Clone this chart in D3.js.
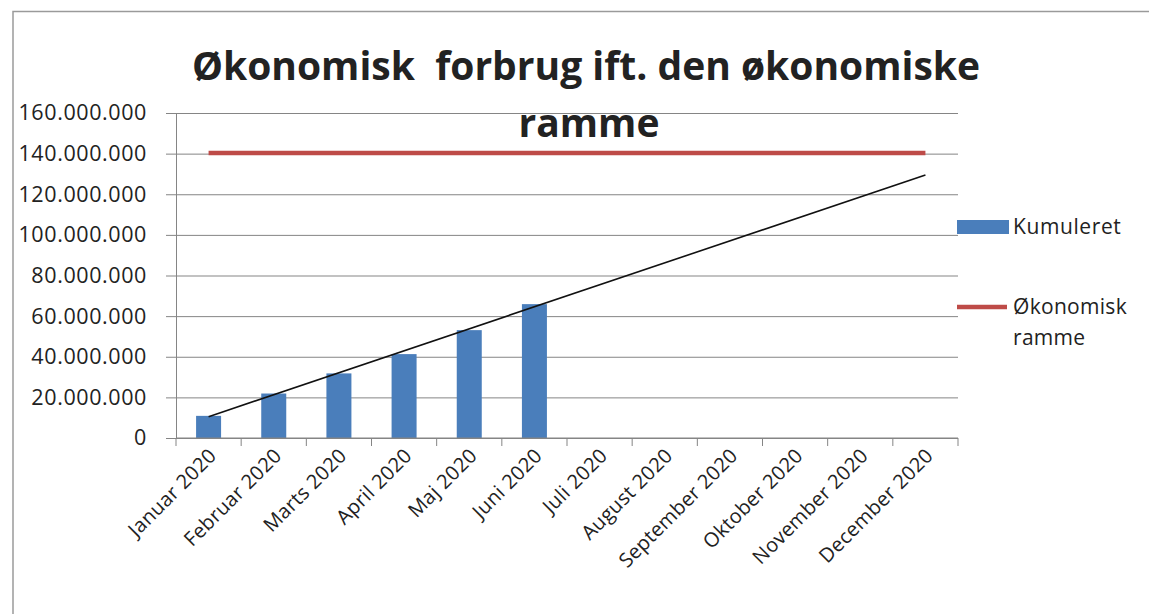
<!DOCTYPE html>
<html>
<head>
<meta charset="utf-8">
<script src="https://cdn.jsdelivr.net/npm/d3@7"></script>
<style>
  body { margin: 0; background: #fff; }
  text { font-family: "Open Sans", sans-serif; fill: #222; }
</style>
</head>
<body>
<div id="chart"></div>
<script>
// Data (values in kroner)
const months = ["Januar 2020", "Februar 2020", "Marts 2020", "April 2020", "Maj 2020", "Juni 2020",
  "Juli 2020", "August 2020", "September 2020", "Oktober 2020", "November 2020", "December 2020"];
const kumuleret = [10900000, 21900000, 31800000, 41300000, 53100000, 65900000];
const ramme = [140300000, 140300000, 140300000, 140300000, 140300000, 140300000,
  140300000, 140300000, 140300000, 140300000, 140300000, 140300000];
// trendline endpoints (Januar, December)
const trendMonths = ["Januar 2020", "December 2020"];
const trendValues = [10500000, 129500000];
const yTicks = [0, 20000000, 40000000, 60000000, 80000000, 100000000, 120000000, 140000000, 160000000];

const width = 1149, height = 614;
const margin = { top: 113, right: 191, bottom: 176, left: 176 };
const w = width - margin.left - margin.right;
const h = height - margin.top - margin.bottom;

const svg = d3.select("#chart").append("svg")
    .attr("width", width)
    .attr("height", height);

// outer frame (top + left edge)
svg.append("path")
    .attr("d", "M13,614 V11.5 H1149")
    .attr("fill", "none")
    .attr("stroke", "#9a9a9a")
    .attr("stroke-width", 1.5);

const g = svg.append("g")
    .attr("transform", "translate(" + margin.left + "," + margin.top + ")");

const x = d3.scaleBand().domain(months).range([0, w]);
const y = d3.scaleLinear().domain([0, 160000000]).range([h, 0]);

const fmt = v => d3.format(",")(v).replace(/,/g, ".");

// Y grid
g.append("g")
    .call(d3.axisLeft(y).tickValues(yTicks).tickSize(-w).tickFormat(""))
    .call(s => s.select(".domain").remove())
    .call(s => s.selectAll("line").attr("stroke", "#858585"));

// Y axis
g.append("g")
    .call(d3.axisLeft(y).tickValues(yTicks).tickSize(10).tickPadding(19).tickFormat(fmt))
    .call(s => s.select(".domain").attr("stroke", "#858585"))
    .call(s => s.selectAll("line").attr("stroke", "#858585"))
    .call(s => s.selectAll("text").attr("font-size", 21.5).attr("letter-spacing", 0.6).attr("fill", "#222"));

// bars
g.selectAll(".bar")
    .data(kumuleret)
    .join("rect")
    .attr("class", "bar")
    .attr("x", (d, i) => x(months[i]) + x.bandwidth() / 2 - 12.5)
    .attr("width", 25)
    .attr("y", d => y(d))
    .attr("height", d => h - y(d))
    .attr("fill", "#4a7ebb");

// X axis with boundary ticks
const xAxis = g.append("g").attr("transform", "translate(0," + h + ")");
xAxis.append("line").attr("x1", 0).attr("x2", w).attr("stroke", "#858585");
xAxis.selectAll(".tk")
    .data(months.concat(["end"]))
    .join("line")
    .attr("x1", (d, i) => i * x.step())
    .attr("x2", (d, i) => i * x.step())
    .attr("y2", 8)
    .attr("stroke", "#858585");
xAxis.selectAll(".lbl")
    .data(months)
    .join("text")
    .attr("class", "lbl")
    .attr("text-anchor", "end")
    .attr("font-size", 20)
    .attr("letter-spacing", 0.3)
    .attr("transform", d => "translate(" + (x(d) + x.bandwidth() / 2 + 9) + ",19) rotate(-45)")
    .text(d => d);

// red limit line
const lineRamme = d3.line()
    .x((d, i) => x(months[i]) + x.bandwidth() / 2)
    .y(d => y(d));
g.append("path")
    .attr("d", lineRamme(ramme))
    .attr("fill", "none")
    .attr("stroke", "#be4b48")
    .attr("stroke-width", 4.5);

// trendline
const lineTrend = d3.line()
    .x((d, i) => x(trendMonths[i]) + x.bandwidth() / 2)
    .y(d => y(d));
g.append("path")
    .attr("d", lineTrend(trendValues))
    .attr("fill", "none")
    .attr("stroke", "#111")
    .attr("stroke-width", 1.6);

// title
svg.append("text")
    .attr("x", 586).attr("y", 80)
    .attr("text-anchor", "middle")
    .attr("font-size", 39)
    .attr("font-weight", "bold")
    .attr("fill", "#000")
    .style("white-space", "pre")
    .text("Økonomisk  forbrug ift. den økonomiske");
svg.append("text")
    .attr("x", 589).attr("y", 137)
    .attr("text-anchor", "middle")
    .attr("font-size", 39)
    .attr("font-weight", "bold")
    .attr("fill", "#000")
    .text("ramme");

// legend
const lg = svg.append("g");
lg.append("rect").attr("x", 957).attr("y", 220).attr("width", 52).attr("height", 14).attr("fill", "#4a7ebb");
lg.append("text").attr("x", 1013).attr("y", 234).attr("font-size", 21).attr("letter-spacing", 0.6).text("Kumuleret");
lg.append("line").attr("x1", 957).attr("x2", 1007).attr("y1", 307).attr("y2", 307)
    .attr("stroke", "#be4b48").attr("stroke-width", 4.5);
lg.append("text").attr("x", 1013).attr("y", 314).attr("font-size", 21).attr("letter-spacing", 0.3).text("Økonomisk");
lg.append("text").attr("x", 1013).attr("y", 345).attr("font-size", 21).attr("letter-spacing", 0.3).text("ramme");
</script>
</body>
</html>
